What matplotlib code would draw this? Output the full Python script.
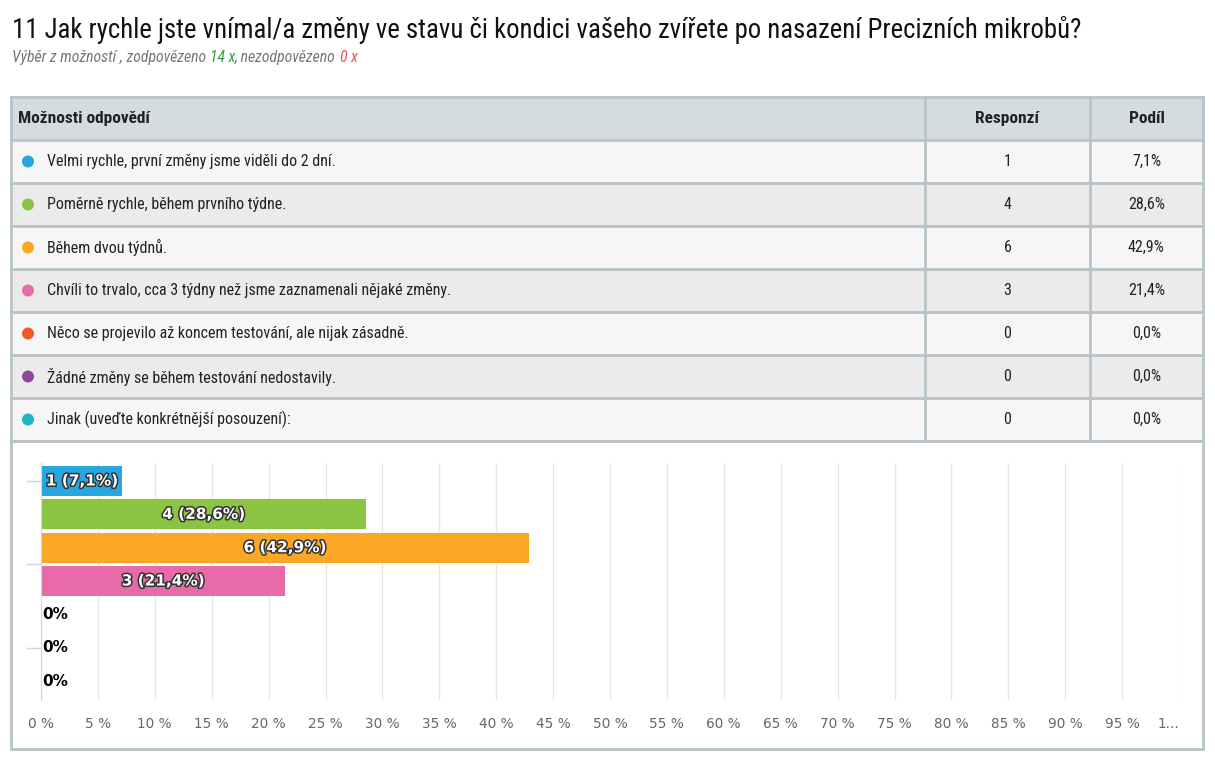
import matplotlib
matplotlib.use("Agg")
from matplotlib import pyplot as plt
from matplotlib.patches import Rectangle, Circle
import matplotlib.patheffects as pe

"""
Survey question 11: table of answers plus horizontal bar chart of shares.
"""

title = "11 Jak rychle jste vnímal/a změny ve stavu či kondici vašeho zvířete po nasazení Precizních mikrobů?"
answers = [
    "Velmi rychle, první změny jsme viděli do 2 dní.",
    "Poměrně rychle, během prvního týdne.",
    "Během dvou týdnů.",
    "Chvíli to trvalo, cca 3 týdny než jsme zaznamenali nějaké změny.",
    "Něco se projevilo až koncem testování, ale nijak zásadně.",
    "Žádné změny se během testování nedostavily.",
    "Jinak (uveďte konkrétnější posouzení):",
]
counts = [1, 4, 6, 3, 0, 0, 0]
colors = ["#27a6df", "#8bc443", "#fba726", "#e76aa9", "#f05a28", "#8b4a9e", "#1fb3c8"]
xticks = list(range(0, 100, 5))

total = sum(counts)
shares = [c / total * 100 for c in counts]


def fmt_pct(v):
    return ("%.1f" % v).replace(".", ",")


narrow = ["Liberation Sans Narrow", "Roboto Condensed", "DejaVu Sans"]
border = "#b9c3c9"

fig = plt.figure(figsize=(12.15, 7.61), dpi=100)
bg = fig.add_axes([0, 0, 1, 1])
bg.set_xlim(0, 1215)
bg.set_ylim(761, 0)
bg.axis("off")

# title and subtitle
bg.text(12, 30, title, fontsize=19.3, family=narrow, va="center", color="#111111")
sub_parts = [("Výběr z možností , zodpovězeno ", "#777777"), ("14 x", "#3a9a3a"),
             (", nezodpovězeno ", "#777777"), ("0 x", "#e8554e")]
x = 12
for txt, col in sub_parts:
    t = bg.text(x, 57, txt, fontsize=11.3, family=narrow, style="italic", va="center", color=col)
    fig.canvas.draw()
    bb = t.get_window_extent()
    x += bb.width

# table
left, right = 11, 1203
col1, col2 = 925, 1090
top = 97
hdr_h = 43
row_h = 43
bg.add_patch(Rectangle((left, top), right - left, hdr_h, facecolor="#d5dce0", edgecolor="none"))
for i in range(len(answers)):
    y0 = top + hdr_h + i * row_h
    fc = "#f6f6f6" if i % 2 == 0 else "#ebebeb"
    bg.add_patch(Rectangle((left, y0), right - left, row_h, facecolor=fc, edgecolor="none"))
bottom = top + hdr_h + len(answers) * row_h
for k in range(len(answers) + 2):
    yy = top + k * row_h
    bg.plot([left, right], [yy, yy], color=border, lw=2)
for xx in (left, col1, col2, right):
    bg.plot([xx, xx], [top, bottom], color=border, lw=2)

bg.text(18, top + hdr_h / 2, "Možnosti odpovědí", fontsize=12.5, family=narrow, weight="bold",
        va="center", color="#222222")
bg.text((col1 + col2) / 2, top + hdr_h / 2, "Responzí", fontsize=12.5, family=narrow, weight="bold",
        va="center", ha="center", color="#222222")
bg.text((col2 + right) / 2, top + hdr_h / 2, "Podíl", fontsize=12.5, family=narrow, weight="bold",
        va="center", ha="center", color="#222222")

for i, (a, c, s, col) in enumerate(zip(answers, counts, shares, colors)):
    yc = top + hdr_h + i * row_h + row_h / 2
    bg.add_patch(Circle((28, yc), 6, facecolor=col, edgecolor="none"))
    bg.text(47, yc, a, fontsize=11.5, family=narrow, va="center", color="#222222")
    bg.text((col1 + col2) / 2, yc, str(c), fontsize=11.5, family=narrow, va="center", ha="center",
            color="#222222")
    bg.text((col2 + right) / 2, yc, fmt_pct(s) + "%", fontsize=11.5, family=narrow, va="center",
            ha="center", color="#222222")

# chart box
bg.add_patch(Rectangle((left, bottom), right - left, 749 - bottom, facecolor="white",
                       edgecolor=border, lw=2))

# bar chart
ax = fig.add_axes([41 / 1215, 61 / 761, 1138 / 1215, 237 / 761])
ax.set_facecolor("none")
ypos = list(range(len(answers)))
ax.barh(ypos, shares, height=0.9, color=colors, zorder=2)
ax.set_xlim(0, 100)
ax.set_ylim(6.57, -0.54)
ax.set_xticks(xticks + [100])
ax.set_xticklabels(["%d %%" % t for t in xticks] + ["1..."], fontsize=9.8, color="#666666")
ax.get_xticklabels()[-1].set_ha("right")
ax.tick_params(axis="x", length=0, pad=12)
ax.set_yticks([0, 2.5, 5])
ax.set_yticklabels([])
ax.tick_params(axis="y", length=11, color="#ccd6eb", width=1)
ax.grid(axis="x", color="#e6e6e6", lw=1, zorder=0)
for sp in ax.spines.values():
    sp.set_visible(False)
ax.spines["left"].set_visible(True)
ax.spines["left"].set_color("#ccd6eb")

for y, c, s in zip(ypos, counts, shares):
    if c > 0:
        ax.text(s / 2, y, "%d (%s%%)" % (c, fmt_pct(s)), ha="center", va="center", fontsize=11,
                weight="bold", color="white", zorder=3,
                path_effects=[pe.withStroke(linewidth=2.2, foreground="#333333")])
    else:
        ax.text(0.1, y, "0%", ha="left", va="center", fontsize=11, weight="bold", color="black",
                zorder=3)

plt.savefig("out.png", dpi=100)
